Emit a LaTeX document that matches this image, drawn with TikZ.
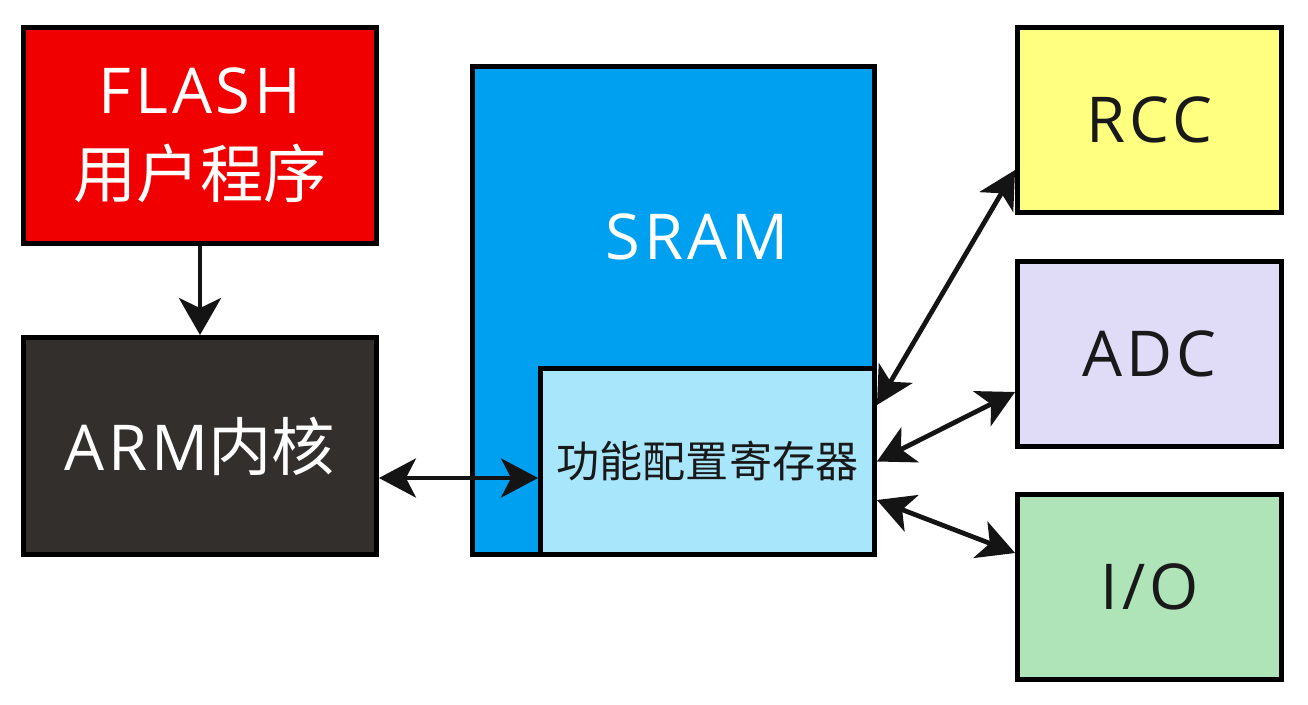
\documentclass[tikz,border=0pt]{standalone}
\usepackage{fontspec}
\setmainfont{Open Sans}[LetterSpace=6]
\newfontfamily\cjk{Noto Sans CJK SC}
\usetikzlibrary{arrows.meta}

\definecolor{flashred}{RGB}{240,0,0}
\definecolor{sramblue}{RGB}{0,160,240}
\definecolor{armgray}{RGB}{51,47,45}
\definecolor{cfgblue}{RGB}{168,230,252}
\definecolor{rccyellow}{RGB}{255,255,128}
\definecolor{adcviolet}{RGB}{224,220,248}
\definecolor{iogreen}{RGB}{174,228,184}

\begin{document}
\begin{tikzpicture}[x=0.02cm, y=-0.02cm,
    block/.style={draw=black, line width=2.8pt, inner sep=0pt, font=\fontsize{36}{48}\selectfont},
    side/.style={block, minimum width=5.28cm, minimum height=3.70cm, text=black!90},
    link/.style={line width=2.7pt, black!92, {Stealth[length=0.74cm, width=0.78cm, inset=0.2cm]}-{Stealth[length=0.74cm, width=0.78cm, inset=0.2cm]}},
    onelink/.style={line width=2.7pt, black!92, -{Stealth[length=0.74cm, width=0.84cm, inset=0.2cm]}}]
    \useasboundingbox (0,0) rectangle (1308,704);

    % Left column
    \node[block, fill=flashred, text=white, align=center, minimum width=7.06cm, minimum height=4.32cm]
        (flash) at (200,135.5) {FLASH\\\cjk 用户程序};
    \node[block, fill=armgray, text=white, minimum width=7.06cm, minimum height=4.34cm]
        (arm) at (200,446) {ARM\cjk 内核};

    % Memory
    \node[block, fill=sramblue, minimum width=8.04cm, minimum height=9.76cm] (sram) at (673.5,310.5) {};
    \node[text=white, font=\fontsize{36}{48}\selectfont] (sramlabel) at (697,237) {SRAM};
    \node[block, fill=cfgblue, text=black!90, minimum width=6.68cm, minimum height=3.72cm,
        font=\fontsize{24.5}{30}\cjk] (cfg) at (707.5,461.5) {功能配置寄存器};

    % Peripherals
    \node[side, fill=rccyellow] (rcc) at (1149.5,120) {RCC};
    \node[side, fill=adcviolet] (adc) at (1149.5,354) {ADC};
    \node[side, fill=iogreen] (io) at (1149.5,587) {I/O};

    % Connections
    \draw[onelink] (flash) -- (arm);
    \coordinate (armbus) at ([yshift=-0.64cm]arm.east);
    \draw[link] (armbus) -- (armbus -| cfg.west);
    \draw[link] ([yshift=1.13cm]cfg.east) -- ([yshift=-1.0cm]rcc.west);
    \draw[link] (cfg.east) -- ([yshift=-0.76cm]adc.west);
    \draw[link] ([yshift=-0.77cm]cfg.east) -- ([yshift=0.68cm]io.west);

\end{tikzpicture}
\end{document}
